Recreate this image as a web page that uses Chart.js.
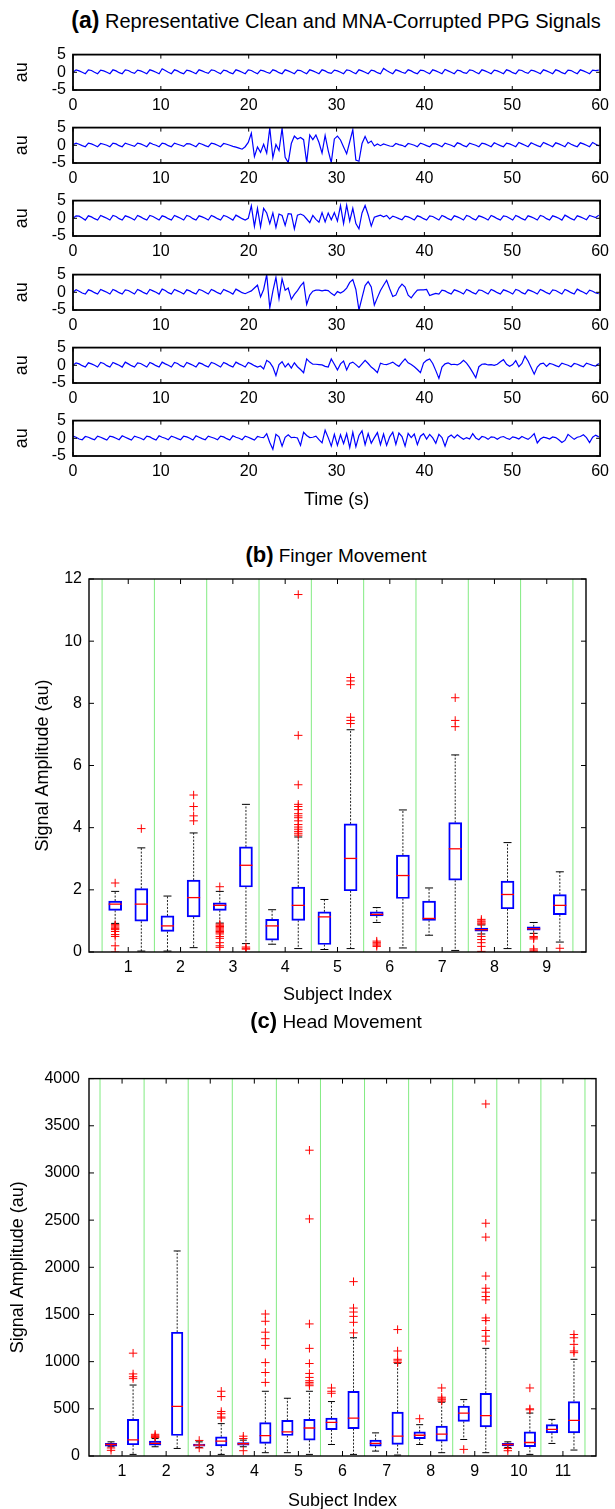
<!DOCTYPE html>
<html>
<head>
<meta charset="utf-8">
<script src="https://cdn.jsdelivr.net/npm/chart.js@4.4.0/dist/chart.umd.min.js"></script>
<style>
  body { margin: 0; background: #fff; }
  #page { position: relative; width: 615px; height: 1509px; overflow: hidden; background: #fff;
          font-family: "Liberation Sans", Arial, sans-serif; color: #000; }
  #page canvas { position: absolute; left: 0; }
  .ttl { position: absolute; left: 336px; transform: translateX(-50%); white-space: nowrap;
         font-size: 19px; line-height: 24px; }
  .ttl b { font-size: 22px; }
  .ttl.big { font-size: 20px; }
  .ttl.big b { font-size: 23px; }
</style>
</head>
<body>
<div id="page">
  <div class="ttl big" style="top:8px"><b>(a)</b> Representative Clean and MNA-Corrupted PPG Signals</div>
  <canvas id="sig0" width="615" height="80"  style="top:38px"></canvas>
  <canvas id="sig1" width="615" height="80"  style="top:111px"></canvas>
  <canvas id="sig2" width="615" height="80"  style="top:184px"></canvas>
  <canvas id="sig3" width="615" height="80"  style="top:258px"></canvas>
  <canvas id="sig4" width="615" height="80"  style="top:331px"></canvas>
  <canvas id="sig5" width="615" height="116" style="top:404px"></canvas>

  <div class="ttl" style="top:543px"><b>(b)</b> Finger Movement</div>
  <canvas id="finger" width="615" height="452" style="top:560px"></canvas>

  <div class="ttl" style="top:1009px"><b>(c)</b> Head Movement</div>
  <canvas id="head" width="615" height="456" style="top:1060px"></canvas>
</div>

<script>
// ---------------- PPG recordings, one sample every 0.35 s over 60 s ----------------
const SAMPLE_STEP = 0.35;

const ppgClean = [
  0.0,0.7,0.4,0.0, -0.4,0.7,0.5,0.0, -0.4,0.6,0.4,0.0, -0.4,0.7,0.4,-0.1,
  -0.4,0.7,0.5,0.0, -0.3,0.6,0.4,0.0, -0.4,0.7,0.4,0.0, -0.4,1.0,0.5,0.0,
  -0.4,0.7,0.4,-0.1, -0.4,0.6,0.4,0.0, -0.4,0.7,0.4,0.0, -0.3,0.7,0.5,0.0,
  -0.4,0.6,0.4,-0.1, -0.4,0.7,0.4,0.0, -0.4,0.7,0.5,0.0, -0.4,0.6,0.4,0.0,
  -0.3,0.7,0.4,-0.1, -0.4,0.7,0.4,0.0, -0.4,0.6,0.5,0.0, -0.4,0.7,0.4,0.0,
  -0.4,0.7,0.4,-0.1, -0.3,0.6,0.4,0.0, -0.4,0.7,0.5,0.0, -0.4,0.7,0.4,0.0,
  -0.4,0.6,0.4,-0.1, -0.4,1.1,0.5,0.0, -0.4,0.7,0.4,0.0, -0.3,0.7,0.4,-0.1,
  -0.4,0.6,0.5,0.0, -0.4,0.7,0.4,0.0, -0.4,0.8,0.4,0.0, -0.4,0.6,0.4,-0.1,
  -0.3,0.7,0.5,0.0, -0.4,0.7,0.4,0.0, -0.4,0.6,0.4,0.0, -0.4,0.7,0.4,-0.1,
  -0.4,0.7,0.5,0.0, -0.3,0.6,0.4,0.0, -0.4,0.7,0.4,0.0, -0.4,0.7,0.4,-0.1,
  -0.4,0.6,0.5,0.0, -0.4,0.7,0.4,0.0, -0.4,0.6,0.5,0.6
];

const ppgCorrupted1 = [
  0.2,0.6,0.3,-0.1, -0.4,0.6,0.4,0.0, -0.4,0.5,0.3,0.0, -0.4,0.6,0.4,-0.1,
  -0.4,0.6,0.3,0.0, -0.3,0.6,0.4,0.0, -0.4,0.7,0.3,0.0, -0.4,0.6,0.4,-0.1,
  -0.4,0.6,0.3,0.0, -0.3,0.5,0.4,0.0, -0.4,0.6,0.3,-0.1, -0.4,0.6,0.4,0.0,
  -0.4,0.5,0.3,0.0, -0.3,-0.5,
  // motion artifact, ~19–35 s
  -0.8,-1.1,-0.4,0.8,3.4,-3.2,-0.5,-2.0,0.3,-2.2,
  4.9,-3.5,0.2,-1.5,4.8,-3.4,-4.9,0.5,2.6,1.8,
  2.2,1.6,-4.9,2.9,1.6,2.9,0.8,-2.2,2.8,-1.5,
  -4.9,1.8,2.6,1.5,-0.5,-2.4,1.0,4.4,-4.2,-4.5,
  0.5,2.5,0.6,1.2,-0.2,0.4,
  -0.1,0.4,0.1,-0.2, -0.3,0.5,0.2,0.0, -0.4,0.5,0.3,0.0, -0.4,0.6,0.3,-0.1,
  -0.4,0.5,0.4,0.0, -0.4,0.6,0.3,0.0, -0.4,0.7,0.4,-0.1, -0.4,0.6,0.3,0.0,
  -0.4,0.6,0.4,0.0, -0.4,0.7,0.3,-0.1, -0.4,0.6,0.4,0.0, -0.4,0.8,0.4,0.0,
  -0.4,0.7,0.3,-0.1, -0.4,0.8,0.4,0.0, -0.4,0.7,0.4,0.0, -0.4,0.8,0.3,-0.1,
  -0.4,0.7,0.4,0.0, -0.4,0.8,0.3,-0.2
];

const ppgCorrupted2 = [
  0.0,0.7,0.6,0.1, -0.5,0.7,0.4,-0.1, -0.5,0.8,0.4,0.0, -0.5,0.8,0.5,-0.1,
  -0.5,0.7,0.4,0.0, -0.5,0.8,0.4,-0.1, -0.5,0.8,0.5,0.0, -0.5,0.7,0.4,-0.1,
  -0.5,0.8,0.4,0.0, -0.5,0.8,0.5,-0.1, -0.5,0.7,0.4,0.0, -0.5,0.8,0.4,-0.1,
  -0.5,0.8,0.5,0.0, -0.5,0.9,0.4,-0.1,
  // motion artifact, ~20–35 s
  -0.5,0.0,3.5,-2.3,2.8,-2.4,2.8,1.5,-1.5,1.5,
  -2.6,1.2,0.8,-2.0,1.3,1.2,-3.0,0.9,1.2,0.8,
  -0.2,-1.2,0.8,-0.3,-1.1,1.6,-1.0,1.5,-0.4,1.6,
  -0.8,3.6,-1.5,3.7,-0.8,2.8,-1.5,-3.0,1.5,3.6,
  1.0,-2.2,0.3,0.6,0.9,0.4,0.8,
  -0.2,0.6,0.3,-0.1, -0.4,0.6,0.4,0.0, -0.5,0.7,0.4,-0.1, -0.5,0.7,0.5,0.0,
  -0.5,0.8,0.4,-0.1, -0.5,0.7,0.4,0.0, -0.5,0.8,0.5,-0.1, -0.5,0.7,0.4,0.0,
  -0.5,0.8,0.4,-0.1, -0.5,0.7,0.5,0.0, -0.5,0.8,0.4,-0.1, -0.5,0.7,0.4,0.0,
  -0.5,0.8,0.5,-0.1, -0.5,0.7,0.4,0.0, -0.5,0.9,0.4,-0.1, -0.5,0.7,0.4,0.0,
  -0.4,0.8,0.5,0.2, 0.9
];

const ppgCorrupted3 = [
  0.0,0.7,0.3,-0.2, -0.5,0.7,0.4,-0.1, -0.5,0.8,0.4,0.0, -0.5,0.8,0.4,-0.1,
  -0.5,0.7,0.5,0.0, -0.5,0.8,0.4,-0.1, -0.5,0.8,0.4,0.0, -0.5,0.9,0.5,-0.1,
  -0.5,0.8,0.4,0.0, -0.5,0.7,0.4,-0.1, -0.5,0.8,0.5,0.0, -0.5,0.8,0.4,-0.1,
  -0.5,0.8,0.4,0.0, -0.5,0.9,0.4,-0.1, -0.4,
  // motion artifact, ~20–41 s
  0.0,0.4,1.2,2.0,-1.3,0.8,5.0,-4.4,0.3,4.2,
  -1.8,3.8,0.6,1.2,-2.0,-0.6,0.5,1.8,2.8,-3.4,
  -0.8,0.3,0.6,0.6,0.4,0.6,0.5,-0.3,-0.9,0.2,
  -0.2,0.3,1.2,2.8,3.6,0.8,-5.0,-1.5,1.9,3.0,
  1.5,-3.6,-1.5,0.5,2.0,3.4,1.0,-1.2,-0.8,1.2,
  2.3,1.5,-0.8,-1.6,-0.4,0.6,0.7,0.7,0.8,-0.9,
  -0.6,-0.3,
  -0.5,0.6,0.4,-0.1, -0.5,0.7,0.4,0.0, -0.5,0.8,0.4,-0.1, -0.5,0.7,0.5,0.0,
  -0.5,0.8,0.4,-0.1, -0.5,0.7,0.4,0.0, -0.5,0.8,0.5,-0.1, -0.5,0.7,0.4,0.0,
  -0.5,0.8,0.4,-0.1, -0.5,0.7,0.5,0.0, -0.5,0.8,0.4,-0.1, -0.5,0.9,0.4,0.0,
  -0.5,0.6,0.3,-0.2, -0.4
];

const ppgCorrupted4 = [
  0.0,0.7,0.4,-0.1, -0.5,0.7,0.4,0.0, -0.5,0.8,0.5,-0.1, -0.5,0.8,0.4,0.0,
  -0.5,0.9,0.4,-0.1, -0.5,0.7,0.5,0.0, -0.5,0.8,0.4,-0.1, -0.5,0.9,0.4,0.0,
  -0.5,0.8,0.5,-0.1, -0.5,0.8,0.4,0.0, -0.5,0.7,0.4,-0.1, -0.5,0.8,0.5,0.0,
  -0.5,0.8,0.4,-0.1, -0.5,0.9,0.4,0.0, -0.5,0.8,0.4,-0.1, -0.5,
  // motion artifact, ~21–53 s
  -0.2,-1.0,1.4,0.8,-0.5,-2.9,0.2,1.0,-0.5,0.5,
  -0.8,0.7,-0.4,-1.2,-2.1,1.8,0.9,0.3,0.3,0.2,
  0.1,-0.3,-0.5,1.8,0.3,-1.3,0.4,1.2,-1.3,0.5,
  0.9,0.2,-0.6,0.4,1.4,0.5,-0.5,-1.2,-2.1,0.6,
  0.3,0.2,0.5,0.9,0.2,-0.3,0.8,1.8,0.7,0.2,
  -0.4,-1.2,-2.1,0.6,1.4,1.8,0.5,-1.5,-3.7,-0.5,
  0.4,0.7,0.2,0.3,0.1,0.6,1.4,0.6,-0.6,-2.0,
  -3.5,-0.4,0.3,0.4,0.1,0.2,0.0,0.3,1.0,1.6,
  0.3,-0.3,0.2,1.3,-0.4,0.5,2.6,1.2,-0.6,-2.5,
  -0.5,0.4,0.6,
  -0.3,0.5,0.3,-0.1, -0.4,0.6,0.3,0.0, -0.4,0.5,0.3,-0.1, -0.4,0.6,0.3,0.0,
  -0.2,0.5
];

const ppgCorrupted5 = [
  0.6,0.3,-0.2,-0.4, 0.5,0.3,-0.1,-0.4, 0.6,0.3,-0.1,-0.5, 0.6,0.4,0.0,-0.4,
  0.7,0.3,-0.1,-0.5, 0.6,0.3,0.0,-0.4, 0.6,0.4,-0.1,-0.5, 0.7,0.3,0.0,-0.4,
  0.6,0.3,-0.1,-0.4, 0.6,0.4,0.0,-0.5, 0.7,0.3,-0.1,-0.4, 0.6,0.3,0.0,-0.4,
  0.6,0.4,-0.1,-0.5, 0.7,0.3,0.0,-0.4, 0.6,0.3,-0.1,-0.5, 0.5,0.3,
  // motion artifact, ~22–60 s
  0.2,1.3,-1.2,-3.1,1.1,0.4,-2.2,0.3,1.0,0.2,
  0.3,0.1,-2.0,1.7,0.8,0.2,0.3,0.6,-0.4,-1.3,
  2.3,0.2,-2.2,1.1,-2.0,1.0,-1.5,1.3,-2.6,1.7,
  -2.4,0.8,2.1,-1.8,1.3,-1.4,0.2,1.6,-1.8,1.2,
  -2.0,0.4,1.7,-1.7,1.5,0.5,-2.2,1.4,0.2,1.2,
  -1.8,0.6,1.3,-0.2,1.1,0.1,-1.4,1.1,0.2,-2.2,
  0.3,0.9,0.1,1.0,0.3,-0.3,0.2,-0.2,1.3,0.1,
  -0.4,0.5,0.3,-0.3,0.4,0.3,-0.3,0.3,0.5,0.0,
  -0.3,0.4,0.2,-0.2,0.5,0.1,-0.3,0.4,1.3,-1.3,
  -0.2,0.3,0.1,-0.2,0.4,0.2,-0.4,-1.2,-0.6,1.1,
  0.4,-0.3,0.3,0.5,1.0,0.2,-1.2,0.3,0.9,0.4
];

const signals = [ppgClean, ppgCorrupted1, ppgCorrupted2, ppgCorrupted3, ppgCorrupted4, ppgCorrupted5];
const timeTicks = [0, 10, 20, 30, 40, 50, 60];
const auTicks = [-5, 0, 5];

// ---------------- (b) finger movement: boxes ordered subject 1 left/right, subject 2 left/right, ... ----------------
const fingerSubjects = ['1', '2', '3', '4', '5', '6', '7', '8', '9'];
const fingerQ1  = [1.34, 0.99, 0.66, 1.13, 1.34, 2.09, 0.38, 1.02, 0.24, 1.97, 1.16, 1.72, 1.02, 2.31, 0.67, 1.39, 0.70, 1.20];
const fingerMed = [1.54, 1.54, 0.84, 1.75, 1.50, 2.79, 0.84, 1.50, 1.13, 3.01, 1.21, 2.46, 1.08, 3.32, 0.72, 1.85, 0.75, 1.50];
const fingerQ3  = [1.64, 2.04, 1.16, 2.31, 1.58, 3.38, 1.05, 2.09, 1.29, 4.12, 1.29, 3.12, 1.64, 4.16, 0.77, 2.28, 0.81, 1.85];
const fingerLo  = [0.92, 0.03, 0.03, 0.14, 0.93, 0.27, 0.25, 0.11, 0.08, 0.11, 0.95, 0.13, 0.54, 0.05, 0.58, 0.11, 0.60, 0.32];
const fingerHi  = [1.95, 3.35, 1.80, 3.83, 1.95, 4.75, 1.36, 3.70, 1.69, 7.15, 1.43, 4.57, 2.06, 6.34, 0.87, 3.52, 0.95, 2.58];
const fingerOutliers = [
  [2.22, 0.88, 0.84, 0.80, 0.76, 0.72, 0.66, 0.56, 0.50, 0.20, 0.00],
  [3.97],
  [],
  [5.05, 4.68, 4.38, 4.22],
  [2.10, 0.90, 0.86, 0.82, 0.78, 0.74, 0.70, 0.66, 0.62, 0.58, 0.50, 0.44, 0.30, 0.20, 0.15],
  [0.16, 0.12, 0.09],
  [],
  [11.50, 6.97, 5.38, 4.75, 4.68, 4.58, 4.45, 4.38, 4.32, 4.22, 4.10, 4.02, 3.95, 3.88, 3.82, 3.76],
  [],
  [8.83, 8.72, 8.60, 7.55, 7.45, 7.35],
  [0.35, 0.30, 0.26, 0.22, 0.18],
  [],
  [],
  [8.18, 7.45, 7.25],
  [1.05, 1.00, 0.97, 0.93, 0.90, 0.50, 0.40, 0.30, 0.18, 0.02],
  [],
  [0.50, 0.46, 0.42, 0.10, 0.06, 0.02],
  [0.12]
];
const fingerTicks = [0, 2, 4, 6, 8, 10, 12];

// ---------------- (c) head movement ----------------
const headSubjects = ['1', '2', '3', '4', '5', '6', '7', '8', '9', '10', '11'];
const headQ1  = [105, 119, 115, 217, 105, 108, 115, 133, 217, 168, 280, 290, 105, 122, 185, 157, 367, 308, 108, 98, 245, 245];
const headMed = [122, 171, 133, 525, 115, 157, 130, 217, 255, 297, 357, 402, 133, 210, 220, 231, 455, 427, 122, 143, 283, 378];
const headQ3  = [133, 388, 157, 1312, 126, 203, 143, 353, 378, 388, 402, 686, 168, 465, 255, 318, 528, 665, 133, 255, 332, 577];
const headLo  = [98, 17, 98, 80, 91, 17, 98, 35, 35, 17, 122, 17, 52, 10, 122, 35, 175, 35, 91, 17, 133, 63];
const headHi  = [150, 752, 185, 2173, 150, 343, 168, 686, 612, 686, 577, 1253, 245, 983, 332, 570, 598, 1141, 150, 455, 388, 1025];
const headOutliers = [
  [60, 85],
  [1090, 870, 840, 820],
  [230, 215, 205, 195],
  [],
  [165, 85],
  [686, 630, 472, 448, 413, 402],
  [210, 185, 56],
  [1505, 1428, 1312, 1243, 1172, 990, 885, 780],
  [],
  [3241, 2513, 1400, 1141, 980, 875, 833, 798, 780, 763, 745],
  [721, 686, 665],
  [1848, 1568, 1526, 1480, 1417, 1305],
  [],
  [1340, 1113, 1025, 1008, 990],
  [395],
  [721, 623, 605, 595, 581],
  [70],
  [3731, 2467, 2320, 1907, 1778, 1736, 1690, 1655, 1463, 1435, 1330, 1270, 1218],
  [80, 56],
  [721, 500, 490],
  [],
  [1288, 1253, 1183, 1113, 1095]
];
const headTicks = [0, 500, 1000, 1500, 2000, 2500, 3000, 3500, 4000];

// ---------------- drawing ----------------
Chart.defaults.font.family = "'Liberation Sans', Arial, sans-serif";
Chart.defaults.color = '#000';

const BLUE = '#0000ff';
const RED = '#ff0000';
const GREEN = 'rgb(130,235,130)';

// Axis box with inward-pointing tick marks on all four sides
const framePlugin = {
  id: 'frame',
  afterDatasetsDraw(chart, args, opts) {
    const { ctx, chartArea: a, scales: { x, y } } = chart;
    const len = opts.tickLength;
    ctx.save();
    ctx.strokeStyle = '#000';
    ctx.lineWidth = 1;
    ctx.beginPath();
    x.ticks.forEach(t => {
      const px = x.getPixelForValue(t.value);
      ctx.moveTo(px, a.bottom); ctx.lineTo(px, a.bottom - len);
      ctx.moveTo(px, a.top); ctx.lineTo(px, a.top + len);
    });
    y.ticks.forEach(t => {
      const py = y.getPixelForValue(t.value);
      ctx.moveTo(a.left, py); ctx.lineTo(a.left + len, py);
      ctx.moveTo(a.right, py); ctx.lineTo(a.right - len, py);
    });
    ctx.stroke();
    ctx.lineWidth = opts.borderWidth;
    ctx.strokeRect(a.left, a.top, a.right - a.left, a.bottom - a.top);
    ctx.restore();
  }
};

const fixedTicks = list => scale => { scale.ticks = list.map(v => ({ value: v })); };

function makeSignalChart(canvasId, values, withXTitle) {
  const points = values.map((v, i) => ({ x: i * SAMPLE_STEP, y: v }));
  new Chart(document.getElementById(canvasId), {
    type: 'line',
    data: { datasets: [{ data: points, borderColor: BLUE, borderWidth: 1.2, pointRadius: 0, tension: 0, fill: false }] },
    options: {
      responsive: false, animation: false, events: [],
      layout: { padding: { top: 10, right: 11, left: 0, bottom: 0 } },
      plugins: { legend: { display: false }, tooltip: { enabled: false }, frame: { tickLength: 4, borderWidth: 1.8 } },
      scales: {
        x: {
          type: 'linear', min: 0, max: 60,
          afterBuildTicks: fixedTicks(timeTicks),
          ticks: { padding: 6, font: { size: 16 }, maxRotation: 0, autoSkip: false, callback: v => String(v) },
          grid: { display: false, drawTicks: false }, border: { display: false },
          title: { display: withXTitle, text: 'Time (s)', font: { size: 18 }, padding: { top: 0, bottom: 9 } },
          afterFit: s => { s.height = withXTitle ? 64 : 28; }
        },
        y: {
          type: 'linear', min: -5, max: 5,
          afterBuildTicks: fixedTicks(auTicks),
          ticks: { padding: 7, font: { size: 16 }, autoSkip: false, callback: v => String(v) },
          grid: { display: false, drawTicks: false }, border: { display: false },
          title: { display: true, text: 'au', font: { size: 18 }, padding: { top: 11, bottom: 0 } },
          afterFit: s => { s.width = 73; }
        }
      }
    },
    plugins: [framePlugin]
  });
}

signals.forEach((values, k) => makeSignalChart('sig' + k, values, k === signals.length - 1));

function makeBoxChart(canvasId, d) {
  const n = d.subjects.length;
  const pos = d.q1.map((_, i) => Math.floor(i / 2) + 1 + (i % 2 ? 0.25 : -0.25));

  const separators = [];
  for (let k = 0; k <= n; k++) {
    const sx = k + 0.5;
    separators.push({ x: sx, y: d.yMin }, { x: sx, y: d.yMax }, { x: sx, y: null });
  }
  const whiskers = [], caps = [], medians = [], boxes = [], outliers = [];
  pos.forEach((p, i) => {
    whiskers.push({ x: p, y: d.q3[i] }, { x: p, y: d.hi[i] }, { x: p, y: null },
                  { x: p, y: d.q1[i] }, { x: p, y: d.lo[i] }, { x: p, y: null });
    caps.push({ x: p, y: d.hi[i] }, { x: p, y: d.lo[i] });
    medians.push({ x: p, y: d.med[i] });
    boxes.push({ x: p, y: [d.q1[i], d.q3[i]] });
    d.outliers[i].forEach(v => outliers.push({ x: p, y: v }));
  });

  new Chart(document.getElementById(canvasId), {
    type: 'scatter',
    data: {
      datasets: [
        { type: 'scatter', data: outliers, order: 0, pointStyle: 'cross', pointRadius: 4.2,
          pointBorderColor: RED, pointBorderWidth: 1, pointBackgroundColor: RED },
        { type: 'scatter', data: medians, order: 1, pointStyle: 'line', pointRadius: d.boxPx / 2,
          pointBorderColor: RED, pointBorderWidth: 1.3 },
        { type: 'bar', data: boxes, order: 2, barThickness: d.boxPx, grouped: false,
          borderColor: BLUE, borderWidth: 1.3, borderSkipped: false, backgroundColor: 'rgba(0,0,0,0)' },
        { type: 'scatter', data: caps, order: 3, pointStyle: 'line', pointRadius: d.capPx / 2,
          pointBorderColor: '#000', pointBorderWidth: 1 },
        { type: 'line', data: whiskers, order: 4, spanGaps: false, borderColor: '#222', borderWidth: 1,
          borderDash: [2, 1.5], pointRadius: 0, tension: 0, fill: false },
        { type: 'line', data: separators, order: 5, spanGaps: false, borderColor: GREEN, borderWidth: 1,
          pointRadius: 0, tension: 0, fill: false }
      ]
    },
    options: {
      responsive: false, animation: false, events: [],
      layout: { padding: { top: d.padTop, right: d.padRight, left: 0, bottom: 0 } },
      plugins: { legend: { display: false }, tooltip: { enabled: false }, frame: { tickLength: 5, borderWidth: 1.4 } },
      scales: {
        x: {
          type: 'linear', min: 0.25, max: n + 0.75, offset: false,
          afterBuildTicks: fixedTicks(d.subjects.map((_, i) => i + 1)),
          ticks: { padding: 6, font: { size: 16 }, maxRotation: 0, autoSkip: false, callback: v => d.subjects[v - 1] },
          grid: { display: false, drawTicks: false, offset: false }, border: { display: false },
          title: { display: true, text: 'Subject Index', font: { size: 18 }, padding: { top: 0, bottom: d.xTitlePad } },
          afterFit: s => { s.height = d.xAxisHeight; }
        },
        y: {
          type: 'linear', min: d.yMin, max: d.yMax,
          afterBuildTicks: fixedTicks(d.yTicks),
          ticks: { padding: d.yLabelPad, font: { size: 16 }, autoSkip: false, callback: v => String(v) },
          grid: { display: false, drawTicks: false }, border: { display: false },
          title: { display: true, text: 'Signal Amplitude (au)', font: { size: 18 }, padding: { top: d.yTitlePad, bottom: 0 } },
          afterFit: s => { s.width = 89; }
        }
      }
    },
    plugins: [framePlugin]
  });
}

makeBoxChart('finger', {
  subjects: fingerSubjects, q1: fingerQ1, med: fingerMed, q3: fingerQ3, lo: fingerLo, hi: fingerHi,
  outliers: fingerOutliers, yTicks: fingerTicks, yMin: 0, yMax: 12,
  boxPx: 13, capPx: 8, padTop: 19, padRight: 29, xAxisHeight: 60, xTitlePad: 6, yLabelPad: 7, yTitlePad: 32
});

makeBoxChart('head', {
  subjects: headSubjects, q1: headQ1, med: headMed, q3: headQ3, lo: headLo, hi: headHi,
  outliers: headOutliers, yTicks: headTicks, yMin: 0, yMax: 4000,
  boxPx: 11.5, capPx: 7, padTop: 15, padRight: 19, xAxisHeight: 60, xTitlePad: 4, yLabelPad: 9, yTitlePad: 7
});
</script>
</body>
</html>
